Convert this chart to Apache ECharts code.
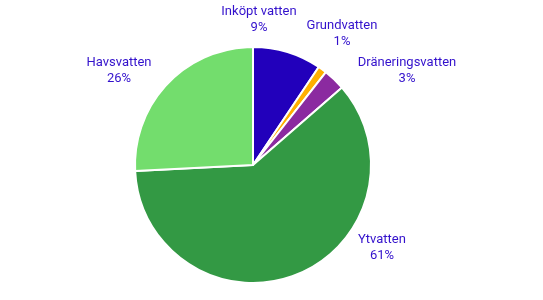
<!DOCTYPE html>
<html><head><meta charset="utf-8">
<script src="https://cdn.jsdelivr.net/npm/echarts@6/dist/echarts.min.js"></script>
<style>html,body{margin:0;padding:0;background:#fff}#c{width:543px;height:300px}</style>
</head><body><div id="c"></div>
<script>
const categories = ['Inköpt vatten', 'Grundvatten', 'Dräneringsvatten', 'Ytvatten', 'Havsvatten'];
const values = [9.4, 1.2, 3.0, 60.6, 25.8];
const percentLabels = ['9%', '1%', '3%', '61%', '26%'];
const colors = ['#2200bb', '#ffb000', '#8b2aa0', '#339944', '#73dd6d'];

// label placement offsets (relative to pie centre), styling only
const labelOffsets = [[6, -145], [89, -131.5], [154, -94], [129, 82.5], [-134, -94]];
const pieCenter = [253, 165];

const chart = echarts.init(document.getElementById('c'), null, {renderer: 'canvas'});
chart.setOption({
  animation: false,
  series: [{
    type: 'pie',
    center: pieCenter,
    radius: 118,
    startAngle: 90,
    clockwise: true,
    data: categories.map((n, i) => ({name: n, value: values[i], itemStyle: {color: colors[i]}})),
    itemStyle: {borderColor: '#fff', borderWidth: 2},
    label: {
      show: true,
      position: 'outside',
      formatter: p => p.name + '\n' + percentLabels[p.dataIndex],
      color: '#3311cc',
      fontFamily: 'Roboto',
      fontSize: 13,
      lineHeight: 16,
      align: 'center'
    },
    labelLine: {show: false},
    labelLayout: function (params) {
      const o = labelOffsets[params.dataIndex];
      return {
        x: pieCenter[0] + o[0],
        y: pieCenter[1] + o[1],
        align: 'center',
        verticalAlign: 'middle'
      };
    }
  }]
});
</script></body></html>
